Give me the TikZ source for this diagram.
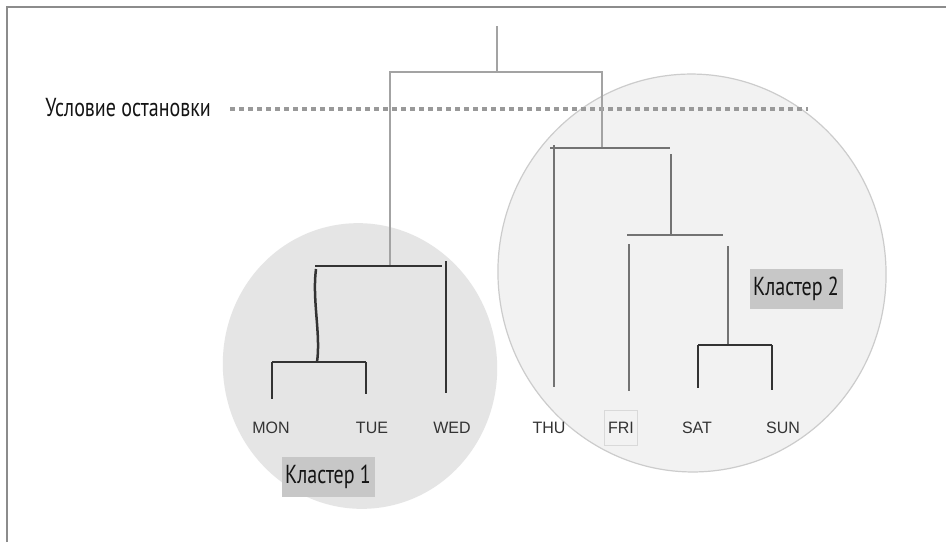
\documentclass[tikz,border=0pt]{standalone}
\usepackage{fontspec}
\setmainfont{PT Sans}[FakeStretch=0.77]
\newfontfamily\dayfont{Liberation Sans}[FakeStretch=0.97]
\begin{document}
\begin{tikzpicture}[x=1pt,y=-1pt,
  frameline/.style={draw=black!45,line width=2pt},
  linkhi/.style={draw=black!36,line width=1.6pt},
  linkmid/.style={draw=black!55,line width=2.2pt},
  linkdark/.style={draw=black!80,line width=2.5pt},
  day/.style={font=\dayfont\fontsize{16.5}{18}\selectfont,text=black!80,inner sep=1pt},
  tag/.style={fill=black!22,text=black!92,font=\fontsize{26}{28}\selectfont,
    minimum width=93pt,minimum height=40pt,inner sep=0pt},
  stopline/.style={draw=black!40,line width=4.5pt,dash pattern=on 4.5pt off 4.5pt}]
\useasboundingbox (0,0) rectangle (946,542);
\fill[white] (0,0) rectangle (946,542);
% frame: top and left edges only
\draw[frameline] (7,542) -- (7,7) -- (946,7);

% cluster regions
\fill[black!5,draw=black!20,line width=1.2pt,rotate around={6:(692,273)}]
  (692,273) ellipse [x radius=194pt,y radius=199pt];
\fill[black!10,rotate around={10:(360,366)}]
  (360,366) ellipse [x radius=137pt,y radius=143pt];

% stopping condition
\node[anchor=east,font=\fontsize{26}{28}\selectfont,text=black!92,inner sep=0pt]
  (stoplabel) at (211,108) {Условие остановки};
\coordinate (stopend) at (808,109);
\draw[stopline] (stoplabel.east) ++(19,1) -- (stopend);

% leaves
\node[day] (mon) at (271,428) {MON};
\node[day] (tue) at (372,428) {TUE};
\node[day] (wed) at (452,428) {WED};
\node[day] (thu) at (549,428) {THU};
\node[day,draw=black!15,line width=1pt,minimum width=33pt,minimum height=35pt] (fri) at (621,428) {FRI};
\node[day] (sat) at (697,428) {SAT};
\node[day] (sun) at (783,428) {SUN};

% cluster tags
\node[tag] (c1) at (328,477) {Кластер 1};
\node[tag] (c2) at (796,289) {Кластер 2};

% joints of the tree
\coordinate (root) at (497,26);
\coordinate (rootj) at (497,72);
\coordinate (tl) at (390,72);
\coordinate (tr) at (602,72);
\coordinate (lj) at (390,266);
\coordinate (rj) at (602,149);
% left branch
\coordinate (lh1) at (315,266);
\coordinate (lh2) at (442,266);
\coordinate (wedtop) at (446,261);
\coordinate (wedbot) at (446,393);
\coordinate (mtj) at (317,362);
\coordinate (mth1) at (272,362);
\coordinate (mth2) at (366,362);
\coordinate (monbot) at (272,399);
\coordinate (tuebot) at (366,394);
% right branch
\coordinate (rh1) at (550,148);
\coordinate (rh2) at (670,148);
\coordinate (thutop) at (554,145);
\coordinate (thubot) at (554,387);
\coordinate (fsj) at (671,235);
\coordinate (fsh1) at (627,235);
\coordinate (fsh2) at (723,235);
\coordinate (fritop) at (629,244);
\coordinate (fribot) at (629,391);
\coordinate (sstop) at (728,246);
\coordinate (ssj) at (728,345);
\coordinate (ssh1) at (698,345);
\coordinate (ssh2) at (772,345);
\coordinate (satbot) at (698,388);
\coordinate (sunbot) at (772,390);

% upper merge
\draw[linkhi] (root) -- (rootj);
\draw[linkhi] (lj) -- (tl) -- (tr) -- (rj);

% cluster 1
\draw[linkdark] (lh1) -- (lh2);
\draw[linkdark] (wedtop) -- (wedbot);
\draw[linkdark] (316,269) .. controls (312,300) and (321,335) .. (mtj);
\draw[linkdark] (mth1) -- (mth2);
\draw[linkdark] (mth1) -- (monbot);
\draw[linkdark] (mth2) -- (tuebot);

% cluster 2
\draw[linkmid] (rh1) -- (rh2);
\draw[linkmid] (thutop) -- (thubot);
\draw[linkmid] (671,154) -- (fsj);
\draw[linkmid,line width=1.8pt] (fsh1) -- (fsh2);
\draw[linkmid,line width=1.8pt] (fritop) -- (fribot);
\draw[linkmid,line width=1.8pt] (sstop) -- (ssj);
\draw[linkdark] (ssh1) -- (ssh2);
\draw[linkdark] (ssh1) -- (satbot);
\draw[linkdark] (ssh2) -- (sunbot);
\end{tikzpicture}
\end{document}
